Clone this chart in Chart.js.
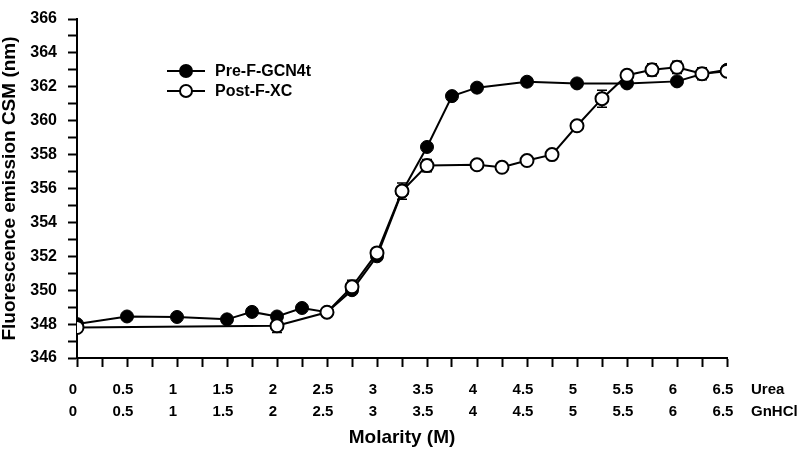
<!DOCTYPE html>
<html lang="en">
<head>
<meta charset="UTF-8">
<title>Fluorescence emission CSM</title>
<script src="https://cdn.jsdelivr.net/npm/chart.js"></script>
<style>
  html, body { margin: 0; padding: 0; background: #fff; }
  #wrap { width: 800px; height: 454px; }
</style>
</head>
<body>
<div id="wrap"><canvas id="chart" width="800" height="454"></canvas></div>
<script>
// Pre-F-GCN4t (filled circles)
const preX = [0, 0.5, 1, 1.5, 1.75, 2, 2.25, 2.5, 2.75, 3, 3.25, 3.5, 3.75, 4, 4.5, 5, 5.5, 6, 6.25, 6.5];
const preY = [348.0, 348.45, 348.42, 348.28, 348.72, 348.45, 348.95, 348.7, 350.0, 352.0, 355.8, 358.45, 361.45, 361.95, 362.3, 362.2, 362.2, 362.32, 362.75, 363.0];

// Post-F-XC (open circles) with error bars
const postX = [0, 2, 2.5, 2.75, 3, 3.25, 3.5, 4, 4.25, 4.5, 4.75, 5, 5.25, 5.5, 5.75, 6, 6.25, 6.5];
const postY = [347.8, 347.9, 348.7, 350.2, 352.2, 355.85, 357.35, 357.4, 357.25, 357.65, 358.0, 359.7, 361.3, 362.68, 363.0, 363.15, 362.77, 362.92];
const postErr = [0, 0.4, 0.1, 0.38, 0.1, 0.48, 0.36, 0, 0, 0, 0.1, 0, 0.5, 0.1, 0.36, 0.36, 0.36, 0];

const seriesNames = ["Pre-F-GCN4t", "Post-F-XC"];
const rowNames = ["Urea", "GnHCl"];

const FONT = "'Liberation Sans', Arial, sans-serif";
const TICK_LEN = 9;
const TICK_PAD = 12;
const ROW_H = 22;

function toPoints(xs, ys) {
  return xs.map((x, i) => ({ x: x, y: ys[i] }));
}

// error bars drawn under the markers
const errorBars = {
  id: "errorBars",
  beforeDatasetsDraw(chart) {
    const { ctx, scales } = chart;
    ctx.save();
    ctx.strokeStyle = "#000";
    ctx.lineWidth = 1.5;
    postX.forEach((x, i) => {
      const e = postErr[i];
      if (!e) return;
      const px = scales.x.getPixelForValue(x);
      const top = scales.y.getPixelForValue(postY[i] + e);
      const bot = scales.y.getPixelForValue(postY[i] - e);
      ctx.beginPath();
      ctx.moveTo(px, top); ctx.lineTo(px, bot);
      ctx.moveTo(px - 5, top); ctx.lineTo(px + 5, top);
      ctx.moveTo(px - 5, bot); ctx.lineTo(px + 5, bot);
      ctx.stroke();
    });
    ctx.restore();
  }
};

// legend (line with marker) and the Urea / GnHCl row names
const extras = {
  id: "extras",
  afterDraw(chart) {
    const { ctx, chartArea, scales } = chart;
    ctx.save();
    const lx = chartArea.left + 90;
    const ly = chartArea.top + 52;
    seriesNames.forEach((name, i) => {
      const y = ly + i * 20;
      ctx.strokeStyle = "#000";
      ctx.lineWidth = 2;
      ctx.beginPath();
      ctx.moveTo(lx, y); ctx.lineTo(lx + 38, y);
      ctx.stroke();
      ctx.beginPath();
      ctx.arc(lx + 19, y, 6, 0, Math.PI * 2);
      ctx.fillStyle = i === 0 ? "#000" : "#fff";
      ctx.fill();
      ctx.stroke();
      ctx.fillStyle = "#000";
      ctx.font = "bold 16px " + FONT;
      ctx.textAlign = "left";
      ctx.textBaseline = "middle";
      ctx.fillText(name, lx + 48, y + 1);
    });
    ctx.font = "bold 15px " + FONT;
    const x0 = scales.x.right + 24;
    const y0 = scales.x.top + TICK_LEN + TICK_PAD + ROW_H / 2;
    rowNames.forEach((r, i) => ctx.fillText(r, x0, y0 + i * ROW_H));
    ctx.restore();
  }
};

new Chart(document.getElementById("chart"), {
  type: "line",
  data: {
    datasets: [
      {
        label: seriesNames[0],
        data: toPoints(preX, preY),
        borderColor: "#000",
        borderWidth: 2,
        pointRadius: 6.5,
        pointBackgroundColor: "#000",
        pointBorderColor: "#000",
        pointBorderWidth: 1,
        tension: 0,
        order: 2
      },
      {
        label: seriesNames[1],
        data: toPoints(postX, postY),
        borderColor: "#000",
        borderWidth: 2,
        pointRadius: 6.5,
        pointBackgroundColor: "#fff",
        pointBorderColor: "#000",
        pointBorderWidth: 2,
        tension: 0,
        order: 1
      }
    ]
  },
  options: {
    responsive: false,
    animation: false,
    layout: { padding: { left: 0, right: 73, top: 8, bottom: 5 } },
    plugins: { legend: { display: false }, tooltip: { enabled: false } },
    scales: {
      x: {
        type: "linear",
        min: 0,
        max: 6.5,
        afterFit: (s) => { s.height = 91; },
        border: { color: "#000", width: 2 },
        grid: { drawOnChartArea: false, drawTicks: true, tickLength: TICK_LEN, color: "#000", tickWidth: 2 },
        ticks: {
          stepSize: 0.25,
          autoSkip: false,
          maxRotation: 0,
          padding: TICK_PAD,
          labelOffset: -4,
          color: "#000",
          font: { family: FONT, size: 15, weight: "bold", lineHeight: ROW_H / 15 },
          callback: (v) => (v % 0.5 === 0 ? [String(v), String(v)] : "")
        },
        title: {
          display: true,
          text: "Molarity (M)",
          color: "#000",
          font: { family: FONT, size: 19, weight: "bold" },
          padding: { top: 0, bottom: 0 }
        }
      },
      y: {
        min: 346,
        max: 366,
        afterFit: (s) => { s.width = 77; },
        border: { color: "#000", width: 2 },
        grid: { drawOnChartArea: false, drawTicks: true, tickLength: TICK_LEN, color: "#000", tickWidth: 2 },
        ticks: {
          stepSize: 1,
          autoSkip: false,
          padding: 11,
          color: "#000",
          font: { family: FONT, size: 16, weight: "bold", lineHeight: 1 },
          callback: (v) => (v % 2 === 0 ? String(v) : "")
        },
        title: {
          display: true,
          text: "Fluorescence emission CSM (nm)",
          color: "#000",
          font: { family: FONT, size: 19, weight: "bold", lineHeight: 1 },
          padding: { top: 0, bottom: 0 }
        }
      }
    }
  },
  plugins: [errorBars, extras]
});
</script>
</body>
</html>
